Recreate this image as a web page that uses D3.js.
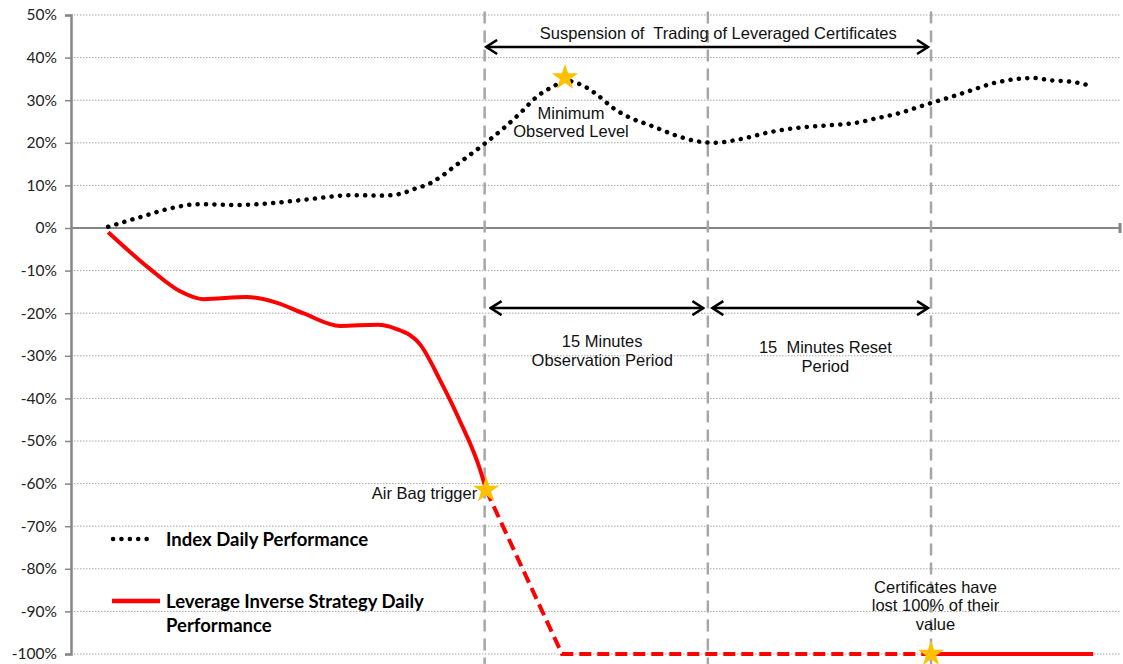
<!DOCTYPE html>
<html>
<head>
<meta charset="utf-8">
<script src="https://cdn.jsdelivr.net/npm/d3@7"></script>
<style>
  body { margin: 0; background: #fff; }
  text { font-family: "Liberation Sans", Arial, sans-serif; }
</style>
</head>
<body>
<div class="chart"></div>
<script>
// minutes relative to the air bag trigger, values in %
const yTicks = [50, 40, 30, 20, 10, 0, -10, -20, -30, -40, -50, -60, -70, -80, -90, -100];

const indexTime = [-25.3, -23.2, -21.0, -19.3, -16.6, -14.4, -11.7, -9.0, -6.8, -5.7, -4.7, -3.6, -2.8, -1.9, 0,
  1.3, 2.4, 3.5, 4.7, 5.4, 6.5, 7.4, 8.7, 9.7, 11.2, 12.8, 14.2, 15.4, 17.1, 19.3, 21.0, 23.1, 24.8, 26.4,
  27.9, 29.5, 31.1, 32.6, 34.2, 35.8, 36.9, 38.0, 39.7, 40.8];
const indexValue = [0.3, 2.5, 4.7, 5.6, 5.4, 5.8, 6.8, 7.7, 7.6, 8.0, 9.2, 10.6, 12.4, 14.8, 19.8,
  23.5, 27.0, 30.8, 33.4, 34.6, 33.6, 31.7, 28.0, 26.0, 24.0, 21.8, 20.4, 20.0, 20.8, 22.6, 23.5, 24.1, 24.6, 25.8,
  27.0, 28.8, 30.5, 32.2, 34.0, 35.0, 35.2, 34.7, 34.2, 33.3];

const strategyTime = [-25.3, -22.5, -20.5, -18.9, -16.0, -14.0, -12.2, -9.7, -7.2, -6.0, -4.3, -3.0, -1.7, -0.3, 0.1];
const strategyValue = [-1.0, -9.6, -14.8, -16.7, -16.2, -17.5, -20.0, -23.0, -22.7, -23.6, -27.5, -35.7, -45.0, -56.8, -61.5];

const suspendedTime = [0.1, 5.2, 30];
const suspendedValue = [-61.5, -100, -100];

const lostTime = [30, 40.9];
const lostValue = [-100, -100];

const periodMarks = [0, 15, 30];

const starTime = [5.4, 0.1, 30];
const starValue = [35.3, -61.5, -100];

const legendLabels = ["Index Daily Performance", "Leverage Inverse Strategy Daily", "Performance"];

const W = 1123, H = 664;
const plotLeft = 71, plotRight = 1120, plotTop = 15, plotBottom = 654;

const svg = d3.select(".chart").append("svg")
  .attr("width", W).attr("height", H);

const x = d3.scaleLinear().domain([-27.8, 42.7]).range([plotLeft, plotRight]);
const y = d3.scaleLinear().domain([-100, 50]).range([plotBottom, plotTop]);

// gridlines
svg.append("g").selectAll("line")
  .data(yTicks.filter(d => d !== 0))
  .enter().append("line")
  .attr("x1", plotLeft).attr("x2", plotRight)
  .attr("y1", d => y(d)).attr("y2", d => y(d))
  .attr("stroke", "#a6a6a6").attr("stroke-width", 1)
  .attr("stroke-dasharray", "1.5,1.5");

// y axis
const yAxis = d3.axisLeft(y).tickValues(yTicks).tickFormat(d => d + "%").tickSize(6).tickPadding(8);
const gy = svg.append("g").attr("transform", `translate(${plotLeft},0)`).call(yAxis);
gy.select(".domain").attr("stroke", "#868686").attr("stroke-width", 2.5);
gy.selectAll(".tick line").attr("stroke", "#868686").attr("stroke-width", 1.5);
gy.selectAll(".tick text")
  .style("font-family", "Lato, 'Noto Sans', sans-serif")
  .style("font-size", "15.5px").attr("fill", "#222");

// zero axis
svg.append("line")
  .attr("x1", plotLeft).attr("x2", plotRight)
  .attr("y1", y(0)).attr("y2", y(0))
  .attr("stroke", "#868686").attr("stroke-width", 2);
svg.append("line")
  .attr("x1", plotRight).attr("x2", plotRight)
  .attr("y1", y(0) - 5).attr("y2", y(0) + 5)
  .attr("stroke", "#868686").attr("stroke-width", 3);

// vertical period lines
svg.append("g").selectAll("line")
  .data(periodMarks)
  .enter().append("line")
  .attr("x1", d => x(d)).attr("x2", d => x(d))
  .attr("y1", y(50.8)).attr("y2", H)
  .attr("stroke", "#a6a6a6").attr("stroke-width", 2.5)
  .attr("stroke-dasharray", "12,7");

// arrow marker
const defs = svg.append("defs");
defs.append("marker")
  .attr("id", "head")
  .attr("viewBox", "-12 -8 14 16")
  .attr("markerUnits", "userSpaceOnUse")
  .attr("markerWidth", 14).attr("markerHeight", 16)
  .attr("refX", 0).attr("refY", 0)
  .attr("orient", "auto-start-reverse")
  .append("path")
  .attr("d", "M-11,-7L0,0L-11,7")
  .attr("fill", "none").attr("stroke", "#000").attr("stroke-width", 2.5);

function arrow(t0, t1, v) {
  svg.append("line")
    .attr("x1", x(t0)).attr("x2", x(t1))
    .attr("y1", y(v)).attr("y2", y(v))
    .attr("stroke", "#000").attr("stroke-width", 2.5)
    .attr("marker-start", "url(#head)").attr("marker-end", "url(#head)");
}
arrow(0.1, 29.8, 42.5);
arrow(0.4, 14.7, -18.8);
arrow(15.3, 29.8, -18.8);

// series
const line = d3.line().x(d => x(d[0])).y(d => y(d[1])).curve(d3.curveMonotoneX);
const straight = d3.line().x(d => x(d[0])).y(d => y(d[1]));

svg.append("path")
  .datum(d3.zip(indexTime, indexValue))
  .attr("d", line)
  .attr("fill", "none").attr("stroke", "#000").attr("stroke-width", 4.5)
  .attr("stroke-linecap", "round").attr("stroke-dasharray", "0.1,8.3");

svg.append("path")
  .datum(d3.zip(strategyTime, strategyValue))
  .attr("d", line)
  .attr("fill", "none").attr("stroke", "#ff0000").attr("stroke-width", 4);

svg.append("path")
  .datum(d3.zip(suspendedTime, suspendedValue))
  .attr("d", straight)
  .attr("fill", "none").attr("stroke", "#ff0000").attr("stroke-width", 4)
  .attr("stroke-dasharray", "12,6");

svg.append("path")
  .datum(d3.zip(lostTime, lostValue))
  .attr("d", straight)
  .attr("fill", "none").attr("stroke", "#ff0000").attr("stroke-width", 4);

// stars
svg.append("g").selectAll("path")
  .data(d3.zip(starTime, starValue))
  .enter().append("path")
  .attr("d", d3.symbol(d3.symbolStar).size(215))
  .attr("transform", d => `translate(${x(d[0])},${y(d[1])})`)
  .attr("fill", "#ffc000");

// annotations
function note(lines, t, v, anchor, lh) {
  const tx = svg.append("text")
    .attr("x", x(t)).attr("y", y(v))
    .attr("text-anchor", anchor)
    .style("font-size", "16.5px").style("white-space", "pre")
    .attr("fill", "#111");
  lines.forEach((s, i) => {
    tx.append("tspan").attr("x", x(t)).attr("dy", i === 0 ? 0 : lh).text(s);
  });
}
note(["Suspension of  Trading of Leveraged Certificates"], 15.7, 44.4, "middle", 18);
note(["Minimum", "Observed Level"], 5.8, 25.6, "middle", 18);
note(["15 Minutes", "Observation Period"], 7.9, -28.0, "middle", 19);
note(["15  Minutes Reset", "Period"], 22.9, -29.4, "middle", 19);
note(["Air Bag trigger"], -0.5, -63.5, "end", 18);
note(["Certificates have", "lost 100% of their", "value"], 30.3, -85.6, "middle", 18.5);

// legend
const lg = svg.append("g");
lg.append("line")
  .attr("x1", 113).attr("x2", 155).attr("y1", 539).attr("y2", 539)
  .attr("stroke", "#000").attr("stroke-width", 4.5)
  .attr("stroke-linecap", "round").attr("stroke-dasharray", "0.1,8.3");
lg.append("line")
  .attr("x1", 112).attr("x2", 160).attr("y1", 601).attr("y2", 601)
  .attr("stroke", "#ff0000").attr("stroke-width", 4.5);
lg.selectAll("text")
  .data(legendLabels)
  .enter().append("text")
  .attr("x", 166)
  .attr("y", (d, i) => [546, 608, 632][i])
  .style("font-family", "Lato, 'Noto Sans', sans-serif")
  .style("font-size", "18.5px").style("font-weight", "bold")
  .attr("fill", "#000")
  .text(d => d);
</script>
</body>
</html>
